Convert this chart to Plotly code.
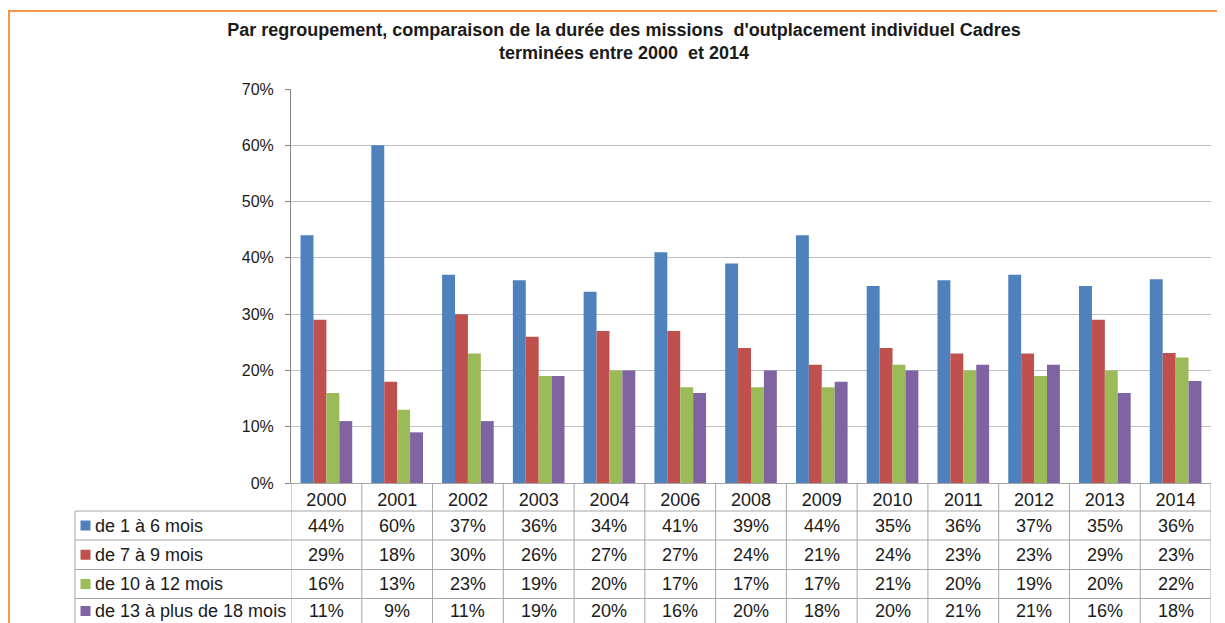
import plotly.graph_objects as go

years = ["2000", "2001", "2002", "2003", "2004", "2006", "2008", "2009", "2010", "2011", "2012", "2013", "2014"]
series_names = ["de 1 à 6 mois", "de 7 à 9 mois", "de 10 à 12 mois", "de 13 à plus de 18 mois"]
s1 = [44, 60, 37, 36, 34, 41, 39, 44, 35, 36, 37, 35, 36.2]
s2 = [29, 18, 30, 26, 27, 27, 24, 21, 24, 23, 23, 29, 23.1]
s3 = [16, 13, 23, 19, 20, 17, 17, 17, 21, 20, 19, 20, 22.3]
s4 = [11, 9, 11, 19, 20, 16, 20, 18, 20, 21, 21, 16, 18.1]
colors = ["#4F81BD", "#C0504D", "#9BBB59", "#8064A2"]
title_text = "Par regroupement, comparaison de la durée des missions  d'outplacement individuel Cadres<br>terminées entre 2000  et 2014"

# page offset (body margin of the html page)
OFF = 8
W, H = 1225, 623
L, R, T, B = 291 - OFF, 1211 - OFF, 89 - OFF, 483 - OFF
pw, ph = R - L, B - T

def px(x):
    return (x - OFF - L) / pw

def py(y):
    return (B - (y - OFF)) / ph

FONT = "Liberation Sans, Arial, sans-serif"
TXT = "#1a1a1a"
GRID = "#BFBFBF"
TLINE = "#A6A6A6"

fig = go.Figure()
all_series = [s1, s2, s3, s4]
for name, vals, c in zip(series_names, all_series, colors):
    fig.add_trace(go.Bar(x=years, y=[v / 100 for v in vals], name=name,
                         marker=dict(color=c, line=dict(width=0))))

shapes = []
ann = []
row_bounds = [511, 540, 569.5, 598.5, 700]
for k, (name, vals, c) in enumerate(zip(series_names, all_series, colors)):
    yc = (row_bounds[k] + row_bounds[k + 1]) / 2 if k < 3 else 611
    for i, v in enumerate(vals):
        ann.append(dict(x=i, xref="x", y=py(yc), yref="paper", text=f"{round(v):d}%",
                        showarrow=False, font=dict(size=18, color=TXT, family=FONT),
                        xanchor="center", yanchor="middle"))
    ann.append(dict(x=px(93), xref="paper", y=py(yc), yref="paper", text=name,
                    showarrow=False, font=dict(size=18, color=TXT, family=FONT),
                    xanchor="left", yanchor="middle"))
    shapes.append(dict(type="rect", xref="paper", yref="paper",
                       x0=px(80.5), x1=px(90.5), y0=py(yc - 5), y1=py(yc + 5),
                       fillcolor=c, line=dict(width=0)))
for yb in row_bounds[:4]:
    shapes.append(dict(type="line", xref="paper", yref="paper", x0=px(75), x1=1,
                       y0=py(yb), y1=py(yb), line=dict(color=TLINE, width=1)))
shapes.append(dict(type="line", xref="paper", yref="paper", x0=px(75), x1=px(75),
                   y0=py(511), y1=py(700), line=dict(color=TLINE, width=1)))
for i in range(len(years) + 1):
    shapes.append(dict(type="line", xref="x", yref="paper", x0=i - 0.5, x1=i - 0.5,
                       y0=0, y1=py(700), line=dict(color=TLINE, width=1)))
shapes.append(dict(type="rect", xref="paper", yref="paper", x0=px(9), x1=px(1260),
                   y0=py(800), y1=py(11), line=dict(color="#F79646", width=2)))

fig.update_layout(
    width=W, height=H,
    margin=dict(l=L, r=W - R, t=T, b=H - B, pad=0),
    paper_bgcolor="white", plot_bgcolor="white",
    showlegend=False,
    barmode="group", bargap=0.27, bargroupgap=0,
    title=dict(text=title_text, x=(624 - OFF) / W, xanchor="center", xref="container",
               y=1 - 28 / H, yanchor="top", yref="container",
               font=dict(size=18, color=TXT, family=FONT, weight="bold")),
    font=dict(family=FONT, color=TXT),
    xaxis=dict(type="category", range=[-0.5, len(years) - 0.5], showline=True,
               linecolor=TLINE, linewidth=1, ticks="", showgrid=False,
               tickfont=dict(size=18, color=TXT, family=FONT), ticklabelstandoff=0,
               fixedrange=True),
    yaxis=dict(range=[0, 0.7], dtick=0.1, tickformat=".0%", showline=True,
               linecolor="#868686", linewidth=1, ticks="outside", ticklen=5,
               tickcolor="#868686", showgrid=True, gridcolor=GRID, gridwidth=1,
               zeroline=False, tickfont=dict(size=16, color=TXT, family=FONT),
               ticklabelstandoff=8, fixedrange=True),
    shapes=shapes, annotations=ann,
)

fig.write_html("out.html")
